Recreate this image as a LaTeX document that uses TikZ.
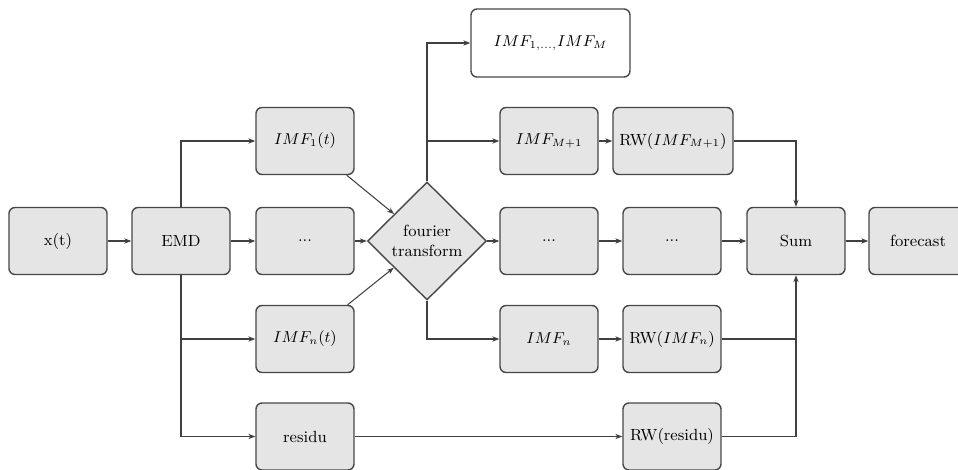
\documentclass[tikz,border=0pt]{standalone}
\usetikzlibrary{shapes.geometric,arrows.meta}
\begin{document}
\begin{tikzpicture}[x=0.02cm,y=-0.02cm,
  every node/.style={font=\fontsize{9.2}{11.2}\selectfont},
  box/.style={rectangle, draw=black!72, fill=black!10, rounded corners=0.12cm,
    line width=0.8pt, minimum width=1.96cm, minimum height=1.34cm, inner sep=1pt},
  widebox/.style={box, minimum width=2.4cm},
  plainbox/.style={box, fill=white, minimum width=3.18cm, minimum height=1.36cm},
  decision/.style={diamond, draw=black!72, fill=black!10, line width=0.8pt,
    minimum width=2.38cm, minimum height=2.36cm, inner sep=0pt, align=center},
  link/.style={draw=black!75, line width=0.6pt, -{Stealth[length=4pt,width=3pt]}},
  joint/.style={draw=black!75, line width=0.6pt}
]
\useasboundingbox (0,0) rectangle (958,470);

% input and decomposition
\node[box] (xt)  at (58,241)  {x(t)};
\node[box] (emd) at (181,241) {EMD};

% intrinsic mode functions
\node[box] (imf1)  at (305,141)   {$IMF_1(t)$};
\node[box] (dotsA) at (305,241)   {...};
\node[box] (imfn)  at (305,339)   {$IMF_n(t)$};
\node[box] (res)   at (305,436.5) {residu};

% spectral selection
\node[decision] (ft) at (427,241) {fourier\\transform};

\node[plainbox] (imfall) at (550.5,43) {$IMF_{1,...,}IMF_M$};
\node[box] (imfM1) at (549,141) {$IMF_{M+1}$};
\node[box] (dotsB) at (549,241) {...};
\node[box] (imfnB) at (549,339) {$IMF_n$};

% random walk forecasts
\node[widebox] (rwM1) at (673,141) {RW($IMF_{M+1}$)};
\node[box] (dotsC) at (672,241) {...};
\node[box] (rwn)   at (672,339) {RW($IMF_n$)};
\node[box] (rwres) at (672,436.5) {RW(residu)};

% aggregation
\node[box] (sum) at (796,241) {Sum};
\node[box] (fc)  at (918,241) {forecast};

% connectors
\draw[link] (xt) -- (emd);
\draw[link] (emd) -- (dotsA);
\draw[link] (emd.north) |- (imf1);
\draw[link] (emd.south) |- (imfn);
\draw[link] (emd.south) |- (res);

\draw[link] (dotsA) -- (ft);
\draw[link] (imf1) -- (ft);
\draw[link] (imfn) -- (ft);

\draw[link] (ft.north) |- (imfall);
\draw[link] (ft.north) |- (imfM1);
\draw[link] (ft) -- (dotsB);
\draw[link] (ft.south) |- (imfnB);

\draw[link] (imfM1) -- (rwM1);
\draw[link] (dotsB) -- (dotsC);
\draw[link] (imfnB) -- (rwn);
\draw[link] (res) -- (rwres);

\draw[link] (rwM1) -| (sum);
\draw[link] (dotsC) -- (sum);
\draw[joint] (rwn) -- (rwn -| sum);
\draw[link] (rwres) -| (sum);
\draw[link] (sum) -- (fc);
\end{tikzpicture}
\end{document}
